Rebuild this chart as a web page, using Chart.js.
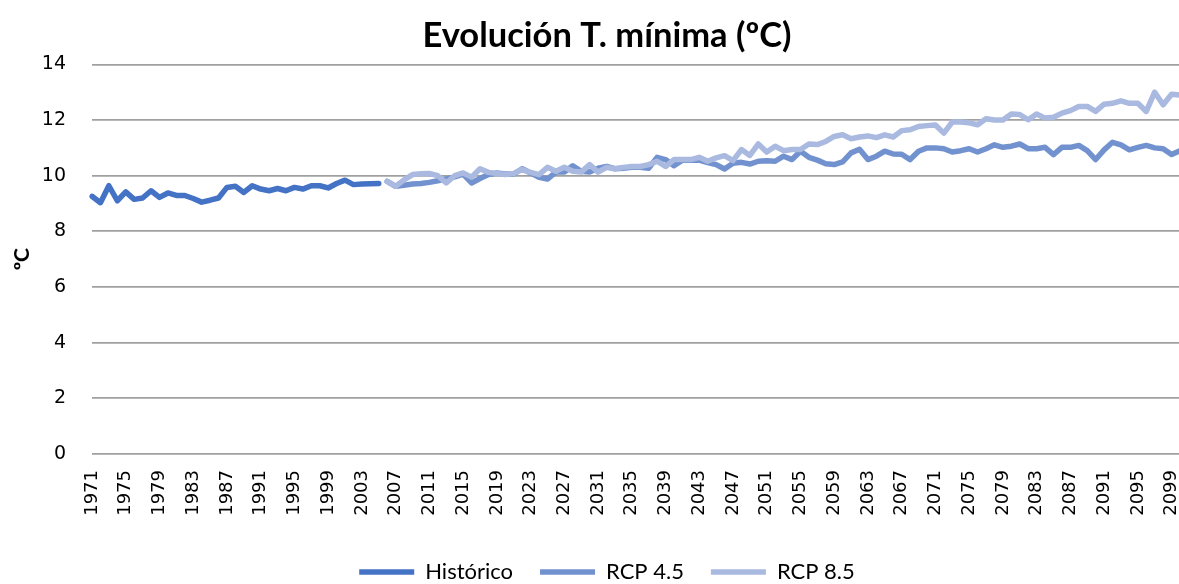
<!DOCTYPE html>
<html>
<head>
<meta charset="utf-8">
<script src="https://cdn.jsdelivr.net/npm/chart.js@4.4.1/dist/chart.umd.min.js"></script>
<style>
html,body{margin:0;padding:0;background:#fff;overflow:hidden}
#wrap{width:1179px;height:584px;position:relative;overflow:hidden}
</style>
</head>
<body>
<div id="wrap"><canvas id="c" width="1214" height="584"></canvas></div>
<script>
const years = [1971,1972,1973,1974,1975,1976,1977,1978,1979,1980,1981,1982,1983,1984,1985,1986,1987,1988,1989,1990,
1991,1992,1993,1994,1995,1996,1997,1998,1999,2000,2001,2002,2003,2004,2005,2006,2007,2008,2009,2010,
2011,2012,2013,2014,2015,2016,2017,2018,2019,2020,2021,2022,2023,2024,2025,2026,2027,2028,2029,2030,
2031,2032,2033,2034,2035,2036,2037,2038,2039,2040,2041,2042,2043,2044,2045,2046,2047,2048,2049,2050,
2051,2052,2053,2054,2055,2056,2057,2058,2059,2060,2061,2062,2063,2064,2065,2066,2067,2068,2069,2070,
2071,2072,2073,2074,2075,2076,2077,2078,2079,2080,2081,2082,2083,2084,2085,2086,2087,2088,2089,2090,
2091,2092,2093,2094,2095,2096,2097,2098,2099,2100];

const xTickLabels = ['1971','1975','1979','1983','1987','1991','1995','1999','2003','2007','2011','2015',
'2019','2023','2027','2031','2035','2039','2043','2047','2051','2055','2059','2063','2067','2071','2075',
'2079','2083','2087','2091','2095','2099'];

const yTicks = [0,2,4,6,8,10,12,14];

// Histórico 1971-2005
const historico = [9.26,9.03,9.64,9.10,9.42,9.15,9.20,9.46,9.22,9.38,9.29,9.29,9.18,9.05,9.12,9.20,9.58,9.62,9.40,9.64,
9.52,9.46,9.54,9.46,9.58,9.52,9.64,9.64,9.56,9.72,9.84,9.68,9.70,9.71,9.72];

// RCP 4.5 2006-2100
const rcp45 = [9.80,9.62,9.66,9.70,9.72,9.76,9.82,9.88,9.96,10.06,9.74,9.90,10.04,10.10,10.06,10.06,10.25,10.10,9.94,9.88,
10.13,10.13,10.36,10.16,10.13,10.27,10.33,10.25,10.27,10.30,10.30,10.27,10.66,10.58,10.36,10.56,10.56,10.56,10.47,10.40,
10.24,10.45,10.48,10.42,10.52,10.54,10.52,10.70,10.58,10.88,10.66,10.56,10.43,10.40,10.50,10.82,10.95,10.58,10.70,10.88,
10.78,10.77,10.58,10.88,11.00,11.00,10.97,10.85,10.90,10.97,10.85,10.97,11.11,11.02,11.06,11.14,10.97,10.97,11.02,10.76,
11.02,11.02,11.09,10.90,10.58,10.93,11.20,11.11,10.93,11.02,11.09,11.00,10.97,10.76,10.90];

// RCP 8.5 2006-2100
const rcp85 = [9.80,9.62,9.85,10.04,10.07,10.08,10.00,9.74,10.00,10.10,9.95,10.25,10.12,10.08,10.04,10.08,10.22,10.12,10.04,10.30,
10.16,10.30,10.16,10.13,10.40,10.13,10.30,10.25,10.30,10.33,10.33,10.40,10.52,10.33,10.58,10.58,10.58,10.66,10.52,10.64,
10.72,10.54,10.94,10.73,11.14,10.85,11.06,10.90,10.94,10.94,11.14,11.12,11.23,11.41,11.47,11.33,11.39,11.43,11.37,11.47,
11.39,11.62,11.65,11.77,11.80,11.82,11.53,11.93,11.93,11.90,11.83,12.05,12.00,12.00,12.22,12.20,12.01,12.22,12.07,12.10,
12.25,12.34,12.49,12.49,12.31,12.57,12.60,12.69,12.60,12.60,12.31,13.00,12.55,12.93,12.90];

const histData = historico.concat(new Array(years.length - historico.length).fill(null));
const r45Data = new Array(years.length - rcp45.length).fill(null).concat(rcp45);
const r85Data = new Array(years.length - rcp85.length).fill(null).concat(rcp85);

const C_HIST = '#4472C4', C_45 = '#7292CF', C_85 = '#A9B9E0';
const LW = 5.5;

new Chart(document.getElementById('c'), {
  type: 'line',
  data: {
    labels: years.map(String),
    datasets: [
      {label: 'Histórico', data: histData, borderColor: C_HIST, backgroundColor: C_HIST, borderWidth: LW, order: 2},
      {label: 'RCP 4.5', data: r45Data, borderColor: C_45, backgroundColor: C_45, borderWidth: LW, order: 1},
      {label: 'RCP 8.5', data: r85Data, borderColor: C_85, backgroundColor: C_85, borderWidth: LW, order: 0}
    ]
  },
  options: {
    responsive: false,
    animation: false,
    devicePixelRatio: 1,
    layout: {padding: {left: 0, right: 0, top: 0, bottom: -9}},
    elements: {
      line: {tension: 0, borderCapStyle: 'round', borderJoinStyle: 'round', fill: false},
      point: {radius: 0, hoverRadius: 0}
    },
    plugins: {
      title: {
        display: true,
        text: 'Evolución T. mínima (ºC)',
        color: '#000',
        font: {family: 'Lato', size: 34.5, weight: 'bold', lineHeight: 1.2},
        padding: {top: 15, bottom: 8}
      },
      legend: {
        position: 'bottom',
        labels: {
          usePointStyle: true,
          pointStyle: 'line',
          pointStyleWidth: 55,
          color: '#000',
          font: {family: 'Lato', size: 22},
          padding: 27,
          sort: (a, b) => a.datasetIndex - b.datasetIndex
        }
      },
      tooltip: {enabled: false}
    },
    scales: {
      x: {
        type: 'category',
        offset: false,
        grid: {display: false},
        border: {display: false},
        ticks: {
          autoSkip: false,
          maxRotation: 90,
          minRotation: 90,
          padding: 8,
          color: '#000',
          font: {family: 'DejaVu Sans', size: 18},
          callback: function(v, i) { const l = String(years[i]); return xTickLabels.includes(l) ? l : ''; }
        },
        afterFit: function(s) { s.height = 80; s.paddingLeft = 0; s.paddingRight = 34; }
      },
      y: {
        min: 0, max: 14,
        afterBuildTicks: function(s) { s.ticks = yTicks.map(v => ({value: v})); },
        grid: {color: '#a0a0a0', lineWidth: 1.8, drawTicks: false},
        border: {display: false},
        ticks: {
          padding: 26,
          color: '#000',
          font: {family: 'DejaVu Sans', size: 19}
        },
        title: {
          display: true,
          text: 'ºC',
          color: '#000',
          font: {family: 'Lato', size: 21, weight: 'bold'},
          padding: {top: 10, bottom: 0}
        },
        afterFit: function(s) { s.width = 92; }
      }
    }
  }
});
</script>
</body>
</html>
